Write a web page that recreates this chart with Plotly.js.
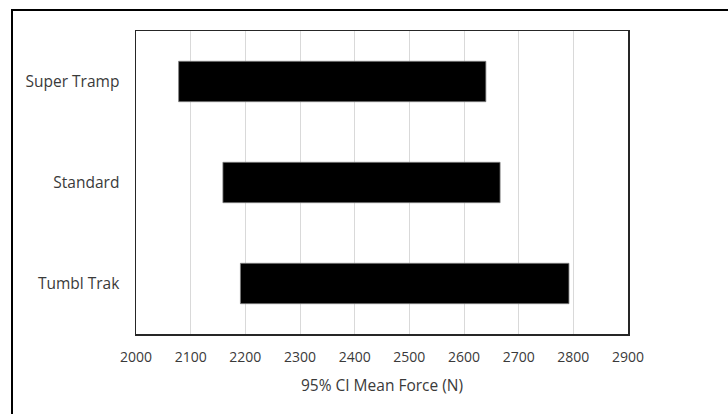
<!DOCTYPE html>
<html>
<head>
<meta charset="utf-8">
<script src="https://cdn.plot.ly/plotly-3.0.1.min.js"></script>
<style>
html,body{margin:0;padding:0;background:#fff;}
#wrap{position:relative;width:728px;height:414px;overflow:hidden;}
#chart{position:absolute;left:0;top:0;width:728px;height:414px;}
#frame{position:absolute;left:11px;top:9px;width:730px;height:420px;border-left:2px solid #000;border-top:2px solid #000;pointer-events:none;}
</style>
</head>
<body>
<div id="wrap"><div id="chart"></div><div id="frame"></div></div>
<script>
var categories = ["Super Tramp", "Standard", "Tumbl Trak"];
var lowValues = [2078, 2159, 2191];
var highValues = [2640, 2666, 2792];
var xTicks = [2000, 2100, 2200, 2300, 2400, 2500, 2600, 2700, 2800, 2900];

var spans = highValues.map(function(h, i){ return h - lowValues[i]; });

var trace = {
  type: 'bar',
  orientation: 'h',
  y: categories,
  x: spans,
  base: lowValues,
  width: 0.4,
  marker: {color: '#000000', line: {color: '#7f7f7f', width: 0.8}},
  hoverinfo: 'none'
};

var fam = '"Open Sans", "Noto Sans", sans-serif';
var tickFont = {family: fam, size: 14, color: '#3a3a3a'};

var layout = {
  width: 728, height: 414,
  margin: {l: 136, r: 100, t: 31, b: 80},
  paper_bgcolor: 'rgba(0,0,0,0)',
  plot_bgcolor: '#ffffff',
  showlegend: false,
  font: tickFont,
  xaxis: {
    range: [2000, 2900],
    tickvals: xTicks,
    ticktext: xTicks.map(String),
    showgrid: true,
    gridcolor: '#d9d9d9',
    gridwidth: 1,
    zeroline: false,
    showline: true,
    linecolor: '#262626',
    linewidth: 1.5,
    mirror: true,
    ticks: '',
    ticklabelstandoff: 10,
    tickfont: tickFont,
    title: {text: '95% CI Mean Force (N)', font: {family: fam, size: 15.5, color: '#3a3a3a'}, standoff: 15}
  },
  yaxis: {
    categoryorder: 'array',
    categoryarray: categories,
    autorange: 'reversed',
    showgrid: false,
    zeroline: false,
    showline: true,
    linecolor: '#262626',
    linewidth: 1.5,
    mirror: true,
    ticks: '',
    ticklabelstandoff: 12,
    tickfont: {family: fam, size: 15.5, color: '#3a3a3a'}
  }
};

Plotly.newPlot('chart', [trace], layout, {displayModeBar: false, staticPlot: true});
</script>
</body>
</html>
